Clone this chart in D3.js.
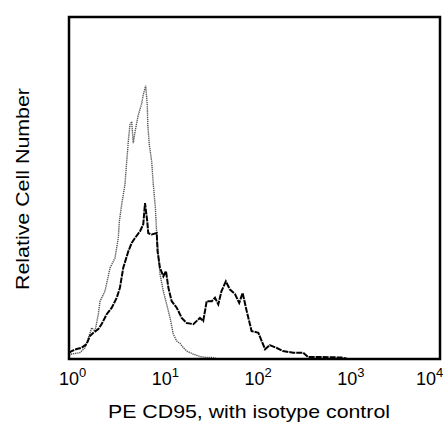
<!DOCTYPE html>
<html>
<head>
<meta charset="utf-8">
<script src="https://cdn.jsdelivr.net/npm/d3@7"></script>
<style>
  html, body { margin: 0; padding: 0; background: #fff; }
  svg { display: block; }
  text { font-family: "Liberation Sans", Arial, sans-serif; fill: #000; }
</style>
</head>
<body>
<svg id="chart" width="444" height="423"></svg>
<script>
// ---- data ----
const tickExponents = [0, 1, 2, 3, 4];
const xTitle = "PE CD95, with isotype control";
const yTitle = "Relative Cell Number";

// isotype control (dotted grey)
const isotypeIntensity = [1.0, 1.07, 1.31, 1.49, 1.76, 1.91, 2.07, 2.16, 2.44, 2.77, 3.13, 3.40, 3.49, 3.70, 4.01, 4.19, 4.36, 4.54, 4.74, 4.93, 5.15, 5.59, 6.08, 6.32, 6.71, 6.98, 7.07, 7.34, 7.79, 8.11, 8.53, 8.83, 9.19, 9.57, 10.4, 11.3, 12.3, 13.3, 14.5, 15.7, 17.1, 18.6, 20.2, 21.7, 25.8, 30.0, 34.6, 38.5, 42.0];
const isotypeCount     = [1.2, 1.46, 1.84, 3.29, 9.13, 8.16, 13.1, 16.9, 19.8, 26.6, 29.5, 35.4, 40.2, 45.2, 51.0, 57.7, 63.6, 68.5, 69.4, 63.1, 66.5, 71.4, 74.7, 77.3, 79.9, 74.3, 68.5, 62.7, 57.7, 51.0, 44.3, 36.4, 30.6, 24.8, 19.8, 16.0, 12.0, 7.29, 5.25, 4.6, 3.29, 2.33, 1.84, 1.46, 0.73, 0.44, 0.44, 0.15, 0.0];

// PE CD95 (solid black)
const cd95Intensity = [1.0, 1.07, 1.21, 1.37, 1.55, 1.68, 1.83, 2.07, 2.25, 2.55, 2.89, 3.27, 3.54, 3.84, 4.36, 4.74, 5.15, 5.82, 6.32, 6.60, 6.77, 6.98, 7.15, 7.79, 8.83, 9.01, 9.57, 10.4, 11.1, 11.8, 12.8, 14.5, 15.7, 16.4, 18.6, 21.9, 25.8, 28.0, 30.5, 34.6, 37.5, 40.7, 44.0, 49.1, 54.4, 61.6, 68.4, 74.5, 82.4, 93.0, 110, 130, 146, 172, 203, 261, 335, 378, 508, 870, 983];
const cd95Count     = [1.75, 2.33, 2.92, 3.29, 4.37, 6.7, 7.67, 8.75, 10.2, 13.1, 15.0, 17.9, 20.8, 26.6, 31.5, 33.9, 35.4, 37.3, 39.4, 45.6, 43.1, 40.2, 36.8, 36.4, 36.8, 31.5, 26.6, 24.2, 25.7, 20.8, 16.9, 15.0, 13.1, 12.0, 10.5, 10.2, 12.0, 11.1, 16.9, 16.9, 17.9, 16.0, 19.8, 22.7, 20.3, 19.0, 16.4, 19.3, 14.0, 8.16, 7.67, 2.83, 4.08, 3.29, 2.33, 1.84, 1.84, 0.58, 0.58, 0.44, 0.15];

// ---- layout ----
const svg = d3.select("#chart");
const plotLeft = 69, plotRight = 440, plotTop = 17, plotBottom = 359;

const x = d3.scaleLog().domain([1, 10000]).range([plotLeft, plotRight]);
const y = d3.scaleLinear().domain([0, 100]).range([plotBottom, plotTop]);

const line = d3.line()
  .x(d => x(d[0]))
  .y(d => y(d[1]));

const iso = isotypeIntensity.map((v, i) => [v, isotypeCount[i]]);
const cd95 = cd95Intensity.map((v, i) => [v, cd95Count[i]]);

svg.append("path")
  .datum(iso)
  .attr("d", line)
  .attr("fill", "none")
  .attr("stroke", "#555")
  .attr("stroke-width", 1.4)
  .attr("stroke-dasharray", "1.3,0.8");

svg.append("path")
  .datum(cd95)
  .attr("d", line)
  .attr("fill", "none")
  .attr("stroke", "#000")
  .attr("stroke-width", 2)
  .attr("stroke-dasharray", "6,1");

// frame
svg.append("rect")
  .attr("x", plotLeft).attr("y", plotTop)
  .attr("width", plotRight - plotLeft).attr("height", plotBottom - plotTop)
  .attr("fill", "none")
  .attr("stroke", "#000")
  .attr("stroke-width", 2.5);

// x axis
const xAxis = d3.axisBottom(x)
  .tickValues(tickExponents.map(e => Math.pow(10, e)))
  .tickSize(0)
  .tickFormat("");
const gx = svg.append("g")
  .attr("transform", `translate(0,${plotBottom})`)
  .call(xAxis);
gx.select(".domain").remove();
gx.selectAll(".tick text").remove();
gx.selectAll(".tick").each(function(d, i) {
  const g = d3.select(this);
  const cx = Math.min(3, 429 - x(d));
  const t = g.append("text")
    .attr("x", cx)
    .attr("y", 26)
    .attr("text-anchor", "middle")
    .style("font-size", "18px");
  t.append("tspan").text("10");
  t.append("tspan")
    .attr("dy", -8)
    .style("font-size", "13px")
    .text(tickExponents[i]);
});

// titles
svg.append("text")
  .attr("x", (108 + 390) / 2)
  .attr("y", 418)
  .attr("text-anchor", "middle")
  .attr("textLength", 282)
  .attr("lengthAdjust", "spacingAndGlyphs")
  .style("font-size", "19px")
  .text(xTitle);

svg.append("text")
  .attr("transform", `translate(29,${(88 + 290) / 2}) rotate(-90)`)
  .attr("text-anchor", "middle")
  .attr("textLength", 202)
  .attr("lengthAdjust", "spacingAndGlyphs")
  .style("font-size", "19px")
  .text(yTitle);
</script>
</body>
</html>
